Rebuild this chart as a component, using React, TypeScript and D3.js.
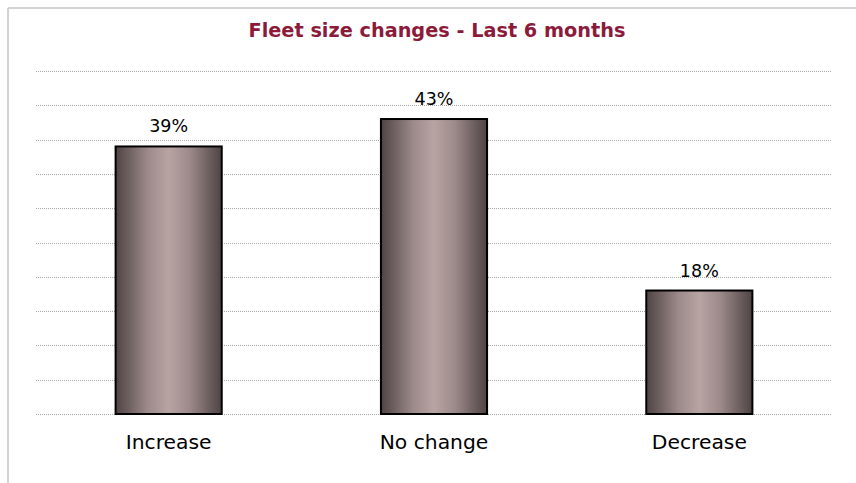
import React from "react";
import * as d3 from "d3";

const categories = ["Increase", "No change", "Decrease"];
const values = [39, 43, 18];
const yTicks = [0, 5, 10, 15, 20, 25, 30, 35, 40, 45, 50];
const title = "Fleet size changes - Last 6 months";

export default function App() {
  const W = 856;
  const H = 483;
  const left = 36;
  const right = 832;
  const top = 71;
  const bottom = 414;
  const x = d3.scaleBand().domain(categories).range([left, right]).paddingInner(0.6).paddingOuter(0.3);
  const y = d3.scaleLinear().domain([0, 50]).range([bottom, top]);
  const font = "'DejaVu Sans', Verdana, sans-serif";
  return (
    <svg width={W} height={H} style={{ position: "absolute", left: 0, top: 0 }}>
      <defs>
        <linearGradient id="barGrad" x1="0" x2="1" y1="0" y2="0">
          <stop offset="0%" stopColor="#4e4343" />
          <stop offset="30%" stopColor="#9c8989" />
          <stop offset="50%" stopColor="#b9a4a4" />
          <stop offset="70%" stopColor="#9c8989" />
          <stop offset="100%" stopColor="#4e4343" />
        </linearGradient>
      </defs>
      <rect x={0} y={0} width={W} height={H} fill="#fff" />
      <line x1={8} x2={W} y1={8} y2={8} stroke="#c4c4c4" strokeWidth={1.5} />
      <line x1={8} x2={8} y1={8} y2={H} stroke="#c4c4c4" strokeWidth={1.5} />
      <text x={437} y={30} textAnchor="middle" dominantBaseline="central" fill="#8c1a3a" fontFamily={font} fontWeight="600" fontSize={19.3}>
        {title}
      </text>
      {yTicks.map((t) => (
        <line key={t} x1={left} x2={right} y1={Math.round(y(t)) + 0.5} y2={Math.round(y(t)) + 0.5} stroke="#a8a8a8" strokeWidth={1} strokeDasharray="1,1" />
      ))}
      {categories.map((c, i) => (
        <g key={c}>
          <rect x={x(c)!} y={y(values[i])} width={x.bandwidth()} height={bottom - y(values[i])} fill="url(#barGrad)" stroke="#000" strokeWidth={2} />
          <text x={x(c)! + x.bandwidth() / 2} y={y(values[i]) - 20} textAnchor="middle" dominantBaseline="central" fontFamily={font} fontSize={17.5} fill="#000">
            {values[i]}%
          </text>
          <text x={x(c)! + x.bandwidth() / 2} y={442} textAnchor="middle" dominantBaseline="central" fontFamily={font} fontSize={20.3} fill="#000">
            {c}
          </text>
        </g>
      ))}
    </svg>
  );
}
